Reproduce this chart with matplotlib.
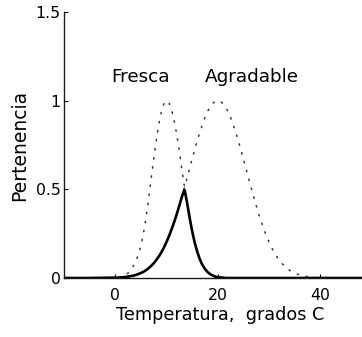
import matplotlib
matplotlib.use("Agg")
import matplotlib.pyplot as plt

plt.rcParams['font.family'] = ['DejaVu Sans']

# Temperature grid (degrees C)
temp = [-10, -5,
        0, 0.5, 1, 1.5, 2, 2.5, 3, 3.5, 4, 4.5, 5, 5.5, 6, 6.5, 7, 7.5, 8, 8.5,
        9, 9.5, 10, 10.5, 11, 11.5, 12, 12.5, 13, 13.5, 14, 14.5, 15, 15.5, 16, 16.5,
        17, 17.5, 18, 18.5, 19, 19.5, 20, 20.5, 21, 21.5, 22, 22.5, 23, 23.5, 24, 24.5,
        25, 25.5, 26, 26.5, 27, 27.5, 28, 28.5, 29, 29.5, 30, 30.5, 31, 31.5, 32, 32.5,
        33, 33.5, 34, 34.5, 35, 35.5, 36, 36.5, 37, 37.5, 38, 38.5, 39, 39.5, 40,
        45, 50]

# Membership "Fresca" (dotted)
fresca = [0, 0,
          0.002, 0.003, 0.006, 0.01, 0.017, 0.028, 0.044, 0.066, 0.095, 0.13, 0.18, 0.25, 0.34, 0.44, 0.56, 0.67, 0.775, 0.866,
          0.938, 0.984, 1.0, 0.987, 0.948, 0.887, 0.809, 0.718, 0.61, 0.515, 0.428, 0.342, 0.265, 0.20, 0.148, 0.106,
          0.074, 0.051, 0.034, 0.022, 0.014, 0.008, 0.005, 0.003, 0.002, 0, 0, 0, 0, 0, 0, 0,
          0, 0, 0, 0, 0, 0, 0, 0, 0, 0, 0, 0, 0, 0, 0, 0,
          0, 0, 0, 0, 0, 0, 0, 0, 0, 0, 0, 0, 0, 0, 0,
          0, 0]

# Membership "Agradable" (dotted)
agradable = [0, 0,
             0.002, 0.002, 0.003, 0.004, 0.006, 0.008, 0.010, 0.013, 0.017, 0.022, 0.028, 0.035, 0.044, 0.055, 0.068, 0.083, 0.101, 0.121,
             0.145, 0.172, 0.203, 0.237, 0.275, 0.316, 0.36, 0.408, 0.458, 0.51, 0.563, 0.617, 0.671, 0.724, 0.775, 0.822,
             0.866, 0.905, 0.938, 0.965, 0.984, 0.996, 1.0, 0.996, 0.984, 0.965, 0.938, 0.905, 0.866, 0.822, 0.775, 0.724,
             0.671, 0.617, 0.563, 0.51, 0.458, 0.408, 0.36, 0.316, 0.275, 0.237, 0.203, 0.172, 0.145, 0.121, 0.101, 0.083,
             0.068, 0.055, 0.044, 0.035, 0.028, 0.022, 0.017, 0.013, 0.010, 0.008, 0.006, 0.004, 0.003, 0.002, 0.002,
             0, 0]

# Intersection (solid)
interseccion = [0, 0,
                0.002, 0.002, 0.003, 0.004, 0.006, 0.008, 0.010, 0.013, 0.017, 0.022, 0.028, 0.035, 0.044, 0.055, 0.068, 0.083, 0.101, 0.121,
                0.145, 0.172, 0.203, 0.237, 0.275, 0.316, 0.36, 0.408, 0.458, 0.5, 0.428, 0.342, 0.265, 0.20, 0.148, 0.106,
                0.074, 0.051, 0.034, 0.022, 0.014, 0.008, 0.005, 0.003, 0.002, 0, 0, 0, 0, 0, 0, 0,
                0, 0, 0, 0, 0, 0, 0, 0, 0, 0, 0, 0, 0, 0, 0, 0,
                0, 0, 0, 0, 0, 0, 0, 0, 0, 0, 0, 0, 0, 0, 0,
                0, 0]

x_ticks = [0, 20, 40]
y_ticks = [0, 0.5, 1, 1.5]
y_ticklabels = ['0', '0.5', '1', '1.5']
labels = ['Fresca', 'Agradable']

fig = plt.figure(figsize=(3.62, 3.37), dpi=100)
ax = fig.add_axes([64 / 362, 59 / 337, 307.5 / 362, 266 / 337])

dot_style = dict(color='0.2', lw=1.1, linestyle=(0, (0.9, 5.1)), dash_capstyle='round')
ax.plot(temp, fresca, **dot_style)
ax.plot(temp, agradable, **dot_style)
ax.plot(temp, interseccion, color='black', lw=1.9, solid_joinstyle='miter')

ax.set_xlim(-10, 50)
ax.set_ylim(0, 1.5)
ax.set_xticks(x_ticks)
ax.set_xticklabels([str(t) for t in x_ticks])
ax.set_yticks(y_ticks)
ax.set_yticklabels(y_ticklabels)

for s in ['top', 'right']:
    ax.spines[s].set_visible(False)
for s in ['left', 'bottom']:
    ax.spines[s].set_linewidth(1.0)
    ax.spines[s].set_color('0.1')

ax.tick_params(axis='both', direction='in', length=3, width=0.8, labelsize=11.3, colors='black')
ax.tick_params(axis='x', pad=7.5)
ax.tick_params(axis='y', pad=2.5)

ax.text(-0.8, 1.105, labels[0], fontsize=13.2, ha='left', va='baseline')
ax.text(17.4, 1.105, labels[1], fontsize=13.2, ha='left', va='baseline')

ax.set_xlabel('Temperatura,  grados C', fontsize=12.7)
ax.set_ylabel('Pertenencia', fontsize=13.5)
ax.xaxis.set_label_coords((220 - 64) / 307.5, -0.107)
ax.yaxis.set_label_coords(-0.112, 0.5)

fig.savefig('out.png', dpi=100)
